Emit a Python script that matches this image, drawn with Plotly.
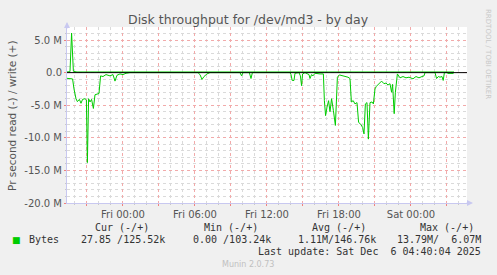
import plotly.graph_objects as go
import pandas as pd

# ---------------- data (values in bytes/s, read plotted negative) ----------------
read_times = [
    "2025-12-04 19:20", "2025-12-04 19:48", "2025-12-04 19:55", "2025-12-04 20:00", "2025-12-04 20:05",
    "2025-12-04 20:12", "2025-12-04 20:22", "2025-12-04 20:30", "2025-12-04 20:38", "2025-12-04 20:50",
    "2025-12-04 20:57", "2025-12-04 21:02", "2025-12-04 21:08", "2025-12-04 21:15", "2025-12-04 21:23",
    "2025-12-04 21:32", "2025-12-04 21:40", "2025-12-04 21:50", "2025-12-04 22:00", "2025-12-04 22:08",
    "2025-12-04 22:20", "2025-12-04 22:35", "2025-12-04 22:55", "2025-12-04 23:10", "2025-12-04 23:20",
    "2025-12-04 23:30", "2025-12-04 23:45", "2025-12-05 00:00", "2025-12-05 00:15", "2025-12-05 00:35",
    "2025-12-05 06:15", "2025-12-05 06:25", "2025-12-05 06:35", "2025-12-05 06:45", "2025-12-05 07:00",
    "2025-12-05 07:15", "2025-12-05 09:45", "2025-12-05 09:53", "2025-12-05 10:00", "2025-12-05 10:32",
    "2025-12-05 10:40", "2025-12-05 10:47", "2025-12-05 13:55", "2025-12-05 14:00", "2025-12-05 14:06",
    "2025-12-05 14:15", "2025-12-05 14:20", "2025-12-05 14:40", "2025-12-05 14:47", "2025-12-05 14:53",
    "2025-12-05 14:58", "2025-12-05 15:10", "2025-12-05 15:30", "2025-12-05 15:35", "2025-12-05 15:43",
    "2025-12-05 15:50", "2025-12-05 16:00", "2025-12-05 16:25", "2025-12-05 16:42", "2025-12-05 16:47",
    "2025-12-05 16:53", "2025-12-05 17:00", "2025-12-05 17:08", "2025-12-05 17:15", "2025-12-05 17:23",
    "2025-12-05 17:32", "2025-12-05 17:42", "2025-12-05 17:47", "2025-12-05 17:52", "2025-12-05 18:02",
    "2025-12-05 18:20", "2025-12-05 18:35", "2025-12-05 18:45", "2025-12-05 18:55", "2025-12-05 19:02",
    "2025-12-05 19:11", "2025-12-05 19:20", "2025-12-05 19:30", "2025-12-05 19:38", "2025-12-05 19:50",
    "2025-12-05 19:58", "2025-12-05 20:05", "2025-12-05 20:12", "2025-12-05 20:20", "2025-12-05 20:27",
    "2025-12-05 20:35", "2025-12-05 20:45", "2025-12-05 20:52", "2025-12-05 21:00", "2025-12-05 21:07",
    "2025-12-05 21:15", "2025-12-05 21:25", "2025-12-05 21:33", "2025-12-05 21:45", "2025-12-05 21:55",
    "2025-12-05 22:05", "2025-12-05 22:15", "2025-12-05 22:23", "2025-12-05 22:28", "2025-12-05 22:36",
    "2025-12-05 22:42", "2025-12-05 22:52", "2025-12-05 23:05", "2025-12-05 23:20", "2025-12-05 23:35",
    "2025-12-05 23:50", "2025-12-06 00:10", "2025-12-06 00:25", "2025-12-06 00:40", "2025-12-06 00:55",
    "2025-12-06 01:05", "2025-12-06 01:10", "2025-12-06 02:00", "2025-12-06 02:08", "2025-12-06 02:17",
    "2025-12-06 02:25", "2025-12-06 02:35", "2025-12-06 02:41", "2025-12-06 02:47", "2025-12-06 03:00",
    "2025-12-06 03:05", "2025-12-06 03:30", "2025-12-06 03:35",
]
read_mbytes = [
    -0.87, -0.97, -2.5, -3.6, -4.0,
    -4.45, -4.1, -4.7, -4.1, -4.0,
    -4.2, -13.8, -4.0, -4.5, -4.1,
    -5.5, -3.4, -3.3, -3.2, -0.5,
    -0.6, -0.3, -0.5, -0.3, -1.3,
    -0.4, -0.2, -0.3, -0.1, 0.0,
    0.0, -0.3, -1.05, -0.6, -0.2,
    0.0, 0.0, -0.5, 0.0, 0.0,
    -0.9, 0.0, 0.0, -0.3, -1.2,
    -1.2, -0.1, 0.0, -0.5, -2.0,
    -0.2, 0.0, -0.3, -0.9, -0.3,
    -0.5, -0.1, -0.2, -0.2, -4.3,
    -6.6, -5.3, -4.3, -6.0, -4.0,
    -5.8, -8.1, -4.5, -0.7, -0.35,
    -0.5, -0.6, -0.7, -0.9, -4.5,
    -4.3, -4.8, -4.6, -7.6, -8.0,
    -8.4, -9.4, -4.8, -4.6, -10.2,
    -4.6, -4.5, -4.8, -2.5, -2.1,
    -1.8, -1.5, -1.3, -1.7, -1.6,
    -1.9, -1.7, -3.0, -1.8, -6.3,
    -3.0, -0.2, -0.8, -0.6, -0.8,
    -0.7, -0.95, -0.6, -0.8, -0.6,
    -0.5, 0.0, 0.0, -0.9, -0.6,
    -0.7, -0.6, -1.2, 0.0, 0.0,
    -0.12, -0.12, 0.0,
]

write_times = [
    "2025-12-04 19:20", "2025-12-04 19:35", "2025-12-04 19:43", "2025-12-04 19:52", "2025-12-04 20:10",
    "2025-12-05 04:25", "2025-12-05 04:30", "2025-12-05 05:45", "2025-12-05 05:50",
    "2025-12-05 11:30", "2025-12-05 11:35", "2025-12-05 12:40", "2025-12-05 12:45",
    "2025-12-05 20:45", "2025-12-05 20:50", "2025-12-05 22:30", "2025-12-05 22:35",
    "2025-12-06 03:35",
]
write_mbytes = [
    0.1, 0.15, 6.07, 0.2, 0.1,
    0.1, 0.17, 0.17, 0.1,
    0.1, 0.16, 0.16, 0.1,
    0.1, 0.18, 0.18, 0.1,
    0.1,
]

y_tick_values = [-20e6, -15e6, -10e6, -5e6, 0, 5e6]
y_tick_labels = ["-20.0 M", "-15.0 M", "-10.0 M", "-5.0 M", "0.0", "5.0 M"]

x_start = "2025-12-04 19:20:04"
x_end = "2025-12-06 04:40:04"

title_text = "Disk throughput for /dev/md3 - by day"
y_title = "Pr second read (-) / write (+)"
legend_headers = ["Cur (-/+)", "Min (-/+)", "Avg (-/+)", "Max (-/+)"]
legend_values = ["27.85 /125.52k", "0.00 /103.24k", "1.11M/146.76k", "13.79M/\u00a0\u00a06.07M"]
series_name = "Bytes"
last_update = "Last update: Sat Dec \u00a06 04:40:04 2025"
footer = "Munin 2.0.73"
side_text = "RRDTOOL / TOBI OETIKER"

# ---------------- figure ----------------
GREEN = "#00CC00"
L, R, T, B = 67, 30, 27, 72
W, H = 497, 275
PW, PH = W - L - R, H - T - B


def px(xp):
    return (xp - L) / PW


def py(yp):
    return (H - B - yp) / PH


fig = go.Figure()
fig.add_trace(go.Scatter(
    x=pd.to_datetime(read_times), y=[v * 1e6 for v in read_mbytes],
    mode="lines", line=dict(color=GREEN, width=1), hoverinfo="skip", showlegend=False))
fig.add_trace(go.Scatter(
    x=pd.to_datetime(write_times), y=[v * 1e6 for v in write_mbytes],
    mode="lines", line=dict(color=GREEN, width=1), hoverinfo="skip", showlegend=False))

major = pd.date_range("2025-12-04 21:00", "2025-12-06 03:00", freq="3h")
x_tick_vals = list(major)
x_tick_text = [d.strftime("%a %H:%M") if d.hour % 6 == 0 else "" for d in major]

fig.update_layout(
    width=W, height=H, autosize=False,
    margin=dict(l=L, r=R, t=T, b=B, pad=0),
    paper_bgcolor="#F0F0F0", plot_bgcolor="#FFFFFF",
    font=dict(family="DejaVu Sans", size=10, color="#555555"),
    showlegend=False,
    xaxis=dict(
        type="date", range=[x_start, x_end],
        tickvals=x_tick_vals, ticktext=x_tick_text,
        showgrid=True, gridcolor="#F2AAAA", griddash="dot", gridwidth=1,
        ticks="outside", ticklen=2, tickcolor="#F08080",
        showline=True, linecolor="#C8C8F0", linewidth=1,
        zeroline=False, tickfont=dict(size=10, color="#555555"),
        minor=dict(dtick=3600000, showgrid=True, gridcolor="#DADADA", griddash="dot",
                   ticks="outside", ticklen=1, tickcolor="#C8C8C8"),
        fixedrange=True,
    ),
    yaxis=dict(
        range=[-20e6, 7e6],
        tickvals=y_tick_values, ticktext=y_tick_labels,
        showgrid=True, gridcolor="#F2AAAA", griddash="dot", gridwidth=1,
        ticks="outside", ticklen=2, tickcolor="#F08080",
        showline=True, linecolor="#C8C8F0", linewidth=1,
        zeroline=False, tickfont=dict(size=10, color="#555555"),
        minor=dict(dtick=1e6, tick0=0, showgrid=True, gridcolor="#DADADA", griddash="dot",
                   ticks="outside", ticklen=1, tickcolor="#C8C8C8"),
        fixedrange=True,
    ),
)

# zero rule on top
fig.add_shape(type="line", xref="paper", x0=0, x1=1, yref="y", y0=0, y1=0,
              line=dict(color="#000000", width=1), layer="above")

ann = []
ann.append(dict(text=title_text, x=px(248.5), y=py(19.5), font=dict(size=12.5, color="#555555")))
ann.append(dict(text=y_title, x=px(12), y=py(116), textangle=-90, font=dict(size=10.5, color="#555555")))
ann.append(dict(text=side_text, x=px(488), y=py(54), textangle=90, font=dict(size=7, color="#C8C8C8")))

mono = dict(family="DejaVu Sans Mono", size=10, color="#333333")
for txt, xr in zip(legend_headers, [151, 260, 368, 476]):
    ann.append(dict(text=txt.replace(" ", "\u00a0"), x=px(xr), y=py(227.5), xanchor="right", font=mono))
ann.append(dict(text="\u25A0", x=px(16.8), y=py(239.5), font=dict(family="DejaVu Sans", size=9, color=GREEN)))
ann.append(dict(text=series_name, x=px(26.7), y=py(239.5), xanchor="left", font=mono))
for txt, xr in zip(legend_values, [166.7, 272.7, 377.7, 482.7]):
    ann.append(dict(text=txt.replace(" ", "\u00a0"), x=px(xr), y=py(239.5), xanchor="right", font=mono))
ann.append(dict(text=last_update.replace(" ", "\u00a0"), x=px(482.7), y=py(251.8), xanchor="right", font=mono))
ann.append(dict(text=footer, x=px(248), y=py(264), font=dict(family="DejaVu Sans", size=8, color="#C0C0C0")))

# axis arrows
ann.append(dict(text="", x=px(67), y=py(22), ax=0, ay=8, axref="pixel", ayref="pixel",
                showarrow=True, arrowhead=2, arrowsize=1.2, arrowwidth=1, arrowcolor="#C8C8F0"))
ann.append(dict(text="", x=px(473), y=py(203), ax=-8, ay=0, axref="pixel", ayref="pixel",
                showarrow=True, arrowhead=2, arrowsize=1.2, arrowwidth=1, arrowcolor="#C8C8F0"))

for a in ann:
    a.setdefault("xref", "paper")
    a.setdefault("yref", "paper")
    a.setdefault("showarrow", False)
    a.setdefault("xanchor", "center")
    a.setdefault("yanchor", "middle")
fig.update_layout(annotations=ann)

fig.write_html("out.html", config={"displayModeBar": False})
